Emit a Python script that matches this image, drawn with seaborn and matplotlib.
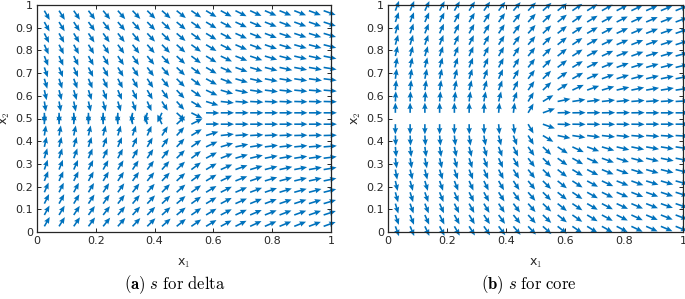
import numpy as np
import seaborn as sns
import matplotlib
matplotlib.use("Agg")
import matplotlib.pyplot as plt

sns.set_theme(style="ticks")
plt.rcParams["font.family"] = ["DejaVu Sans"]
plt.rcParams["mathtext.fontset"] = "cm"

# grid of arrow tails
x1 = [0.025, 0.075, 0.125, 0.175, 0.225, 0.275, 0.325, 0.375, 0.425, 0.475,
      0.525, 0.575, 0.625, 0.675, 0.725, 0.775, 0.825, 0.875, 0.925, 0.975]
x2 = [0.025, 0.075, 0.125, 0.175, 0.225, 0.275, 0.325, 0.375, 0.425, 0.475,
      0.525, 0.575, 0.625, 0.675, 0.725, 0.775, 0.825, 0.875, 0.925, 0.975]

# arrow direction in degrees (data space), one row per x2 value, bottom to top
angles_delta = [
    [66, 64, 62, 60, 58, 56, 54, 52, 49, 46, 42, 38, 35, 33, 31, 29, 28, 27, 26, 25],
    [67, 65, 63, 61, 59, 57, 55, 53, 50, 47, 42, 38, 34, 31, 29, 27, 26, 25, 24, 23],
    [69, 67, 65, 63, 61, 59, 57, 54, 51, 48, 43, 38, 34, 30, 28, 26, 24, 23, 22, 21],
    [71, 69, 67, 65, 63, 61, 59, 56, 53, 49, 43, 38, 33, 29, 26, 24, 22, 20, 19, 18],
    [73, 71, 69, 67, 65, 63, 61, 58, 54, 50, 44, 38, 32, 27, 24, 21, 19, 17, 16, 15],
    [75, 73, 71, 69, 67, 65, 63, 60, 56, 51, 44, 37, 30, 25, 21, 18, 16, 14, 13, 12],
    [77, 76, 74, 72, 70, 68, 66, 63, 58, 52, 44, 35, 27, 21, 17, 14, 12, 11, 10, 9],
    [80, 79, 77, 76, 74, 72, 70, 66, 61, 54, 42, 31, 21, 15, 11, 9, 8, 7, 6, 6],
    [83, 82, 81, 80, 79, 77, 75, 71, 64, 55, 38, 22, 8, 5, 4, 3, 3, 2, 2, 2],
    [89, 89, 89, 90, 90, 92, 95, 100, 110, 50, 33, 1, 0, 0, 0, 0, 0, 0, 0, 0],
    [-89, -89, -89, -90, -90, -92, -95, -100, -110, -50, -33, -1, 0, 0, 0, 0, 0, 0, 0, 0],
    [-83, -82, -81, -80, -79, -77, -75, -71, -64, -55, -38, -22, -8, -5, -4, -3, -3, -2, -2, -2],
    [-80, -79, -77, -76, -74, -72, -70, -66, -61, -54, -42, -31, -21, -15, -11, -9, -8, -7, -6, -6],
    [-77, -76, -74, -72, -70, -68, -66, -63, -58, -52, -44, -35, -27, -21, -17, -14, -12, -11, -10, -9],
    [-75, -73, -71, -69, -67, -65, -63, -60, -56, -51, -44, -37, -30, -25, -21, -18, -16, -14, -13, -12],
    [-73, -71, -69, -67, -65, -63, -61, -58, -54, -50, -44, -38, -32, -27, -24, -21, -19, -17, -16, -15],
    [-71, -69, -67, -65, -63, -61, -59, -56, -53, -49, -43, -38, -33, -29, -26, -24, -22, -20, -19, -18],
    [-69, -67, -65, -63, -61, -59, -57, -54, -51, -48, -43, -38, -34, -30, -28, -26, -24, -23, -22, -21],
    [-67, -65, -63, -61, -59, -57, -55, -53, -50, -47, -42, -38, -34, -31, -29, -27, -26, -25, -24, -23],
    [-66, -64, -62, -60, -58, -56, -54, -52, -49, -46, -42, -38, -35, -33, -31, -29, -28, -27, -26, -25],
]

angles_core = [
    [-74, -72, -70, -68, -66, -64, -62, -60, -57, -54, -50, -46, -42, -39, -36, -34, -32, -30, -29, -28],
    [-75, -73, -71, -69, -67, -65, -63, -61, -58, -55, -51, -46, -42, -38, -35, -33, -31, -29, -27, -26],
    [-77, -75, -73, -71, -69, -67, -65, -63, -60, -56, -51, -46, -41, -37, -34, -31, -29, -27, -25, -24],
    [-78, -77, -75, -73, -71, -69, -67, -64, -61, -57, -52, -46, -41, -36, -32, -29, -27, -25, -23, -22],
    [-80, -78, -77, -75, -73, -71, -69, -66, -63, -58, -52, -46, -40, -35, -31, -27, -25, -22, -21, -19],
    [-82, -80, -79, -77, -75, -73, -71, -68, -64, -59, -52, -45, -38, -33, -28, -25, -22, -20, -18, -17],
    [-84, -83, -81, -80, -78, -76, -74, -71, -66, -60, -52, -43, -36, -30, -25, -22, -19, -17, -15, -14],
    [-86, -85, -84, -83, -81, -79, -77, -74, -69, -62, -51, -40, -31, -25, -21, -17, -15, -13, -12, -11],
    [-88, -88, -87, -86, -85, -84, -82, -79, -74, -65, -38, -15, -11, -9, -8, -7, -6, -5, -5, -4],
    [-90, -90, -90, -90, -90, -89, -88, -86, -84, -66, -25, -2, -1, -1, -1, -1, -1, 0, 0, 0],
    [90, 90, 90, 90, 90, 89, 88, 86, 84, 66, 25, 2, 1, 1, 1, 1, 1, 0, 0, 0],
    [88, 88, 87, 86, 85, 84, 82, 79, 74, 65, 38, 15, 11, 9, 8, 7, 6, 5, 5, 4],
    [86, 85, 84, 83, 81, 79, 77, 74, 69, 62, 51, 40, 31, 25, 21, 17, 15, 13, 12, 11],
    [84, 83, 81, 80, 78, 76, 74, 71, 66, 60, 52, 43, 36, 30, 25, 22, 19, 17, 15, 14],
    [82, 80, 79, 77, 75, 73, 71, 68, 64, 59, 52, 45, 38, 33, 28, 25, 22, 20, 18, 17],
    [80, 78, 77, 75, 73, 71, 69, 66, 63, 58, 52, 46, 40, 35, 31, 27, 25, 22, 21, 19],
    [78, 77, 75, 73, 71, 69, 67, 64, 61, 57, 52, 46, 41, 36, 32, 29, 27, 25, 23, 22],
    [77, 75, 73, 71, 69, 67, 65, 63, 60, 56, 51, 46, 41, 37, 34, 31, 29, 27, 25, 24],
    [75, 73, 71, 69, 67, 65, 63, 61, 58, 55, 51, 46, 42, 38, 35, 33, 31, 29, 27, 26],
    [74, 72, 70, 68, 66, 64, 62, 60, 57, 54, 50, 46, 42, 39, 36, 34, 32, 30, 29, 28],
]

captions = [r"$\mathbf{(a)}\ s\ \mathrm{for\ delta}$", r"$\mathbf{(b)}\ s\ \mathrm{for\ core}$"]

arrow_len = 0.045
blue = "#0072BD"
dark = "#262626"

fig = plt.figure(figsize=(6.85, 2.99), dpi=100)
ax_a = fig.add_axes([37 / 685, 67 / 299, 294 / 685, 227 / 299])
ax_b = fig.add_axes([388 / 685, 67 / 299, 295 / 685, 227 / 299])

X, Y = np.meshgrid(x1, x2)
for ax, ang, cap, cx in [(ax_a, angles_delta, captions[0], 175 / 685),
                         (ax_b, angles_core, captions[1], 529 / 685)]:
    th = np.deg2rad(np.array(ang, dtype=float))
    U = arrow_len * np.cos(th)
    V = arrow_len * np.sin(th)
    ax.quiver(X, Y, U, V, color=blue, angles="xy", scale_units="xy", scale=1,
              width=0.0055, headwidth=3.4, headlength=4.0, headaxislength=3.6,
              clip_on=False)
    ax.set_xlim(0, 1)
    ax.set_ylim(0, 1)
    ax.set_xticks([0, 0.2, 0.4, 0.6, 0.8, 1])
    ax.set_xticklabels(["0", "0.2", "0.4", "0.6", "0.8", "1"])
    ax.set_yticks(np.arange(11) / 10)
    ax.set_yticklabels(["0", "0.1", "0.2", "0.3", "0.4", "0.5", "0.6", "0.7", "0.8", "0.9", "1"])
    ax.tick_params(direction="in", top=True, right=True, labelsize=8,
                   length=3, width=0.7, colors=dark, pad=3)
    for s in ax.spines.values():
        s.set_color(dark)
        s.set_linewidth(0.9)
    ax.set_xlabel("x$_1$", fontsize=9, color=dark, labelpad=8)
    ax.set_ylabel("x$_2$", fontsize=9, color=dark, labelpad=2)
    fig.text(cx, 14 / 299, cap, ha="center", va="center", fontsize=12, color="black")

fig.savefig("out.png", dpi=100)
